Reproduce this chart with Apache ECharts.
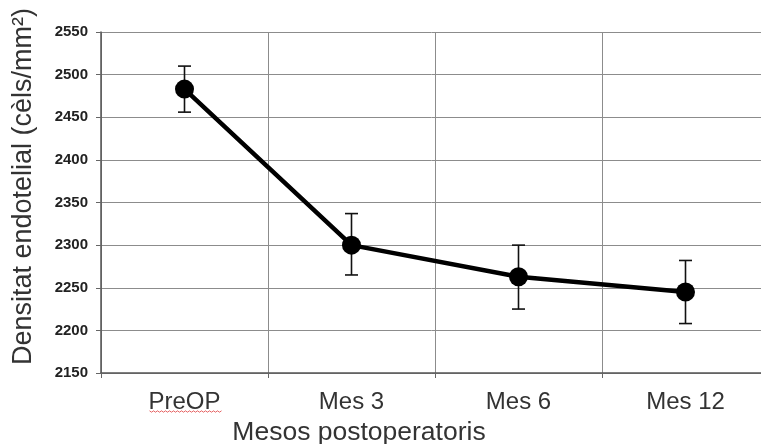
<!DOCTYPE html>
<html>
<head>
<meta charset="utf-8">
<script src="https://cdn.jsdelivr.net/npm/echarts@6/dist/echarts.min.js"></script>
<style>
html,body{margin:0;padding:0;background:#fff;}
#chart{width:761px;height:444px;}
</style>
</head>
<body>
<div id="chart"></div>
<script>
var categories = ['PreOP', 'Mes 3', 'Mes 6', 'Mes 12'];
var meanValues = [2483, 2300, 2263, 2245];
var upperValues = [2510, 2337, 2300, 2282];
var lowerValues = [2456, 2265, 2225, 2208];
var yTicks = {min: 2150, max: 2550, interval: 50};
var xTitle = 'Mesos postoperatoris';
var yTitle = 'Densitat endotelial (cèls/mm²)';

var errData = categories.map(function (c, i) { return [i, lowerValues[i], upperValues[i]]; });

var chart = echarts.init(document.getElementById('chart'));
var font = 'Liberation Sans, Arial, sans-serif';
chart.setOption({
  animation: false,
  backgroundColor: '#fff',
  grid: {left: 101, right: -8, top: 32, bottom: 71, containLabel: false, outerBoundsMode: 'none'},
  xAxis: {
    type: 'category',
    data: categories,
    boundaryGap: true,
    axisLine: {show: true, lineStyle: {color: '#555', width: 1.5}},
    axisTick: {show: true, length: 5, lineStyle: {color: '#666'}},
    splitLine: {show: true, lineStyle: {color: '#8c8c8c', width: 1}},
    axisLabel: {color: '#333', fontSize: 24, fontFamily: font, margin: 17},
    name: xTitle,
    nameLocation: 'middle',
    nameGap: 46,
    nameTextStyle: {color: '#333', fontSize: 26.5, fontFamily: font, padding: [0, 152, 0, 0]}
  },
  yAxis: {
    type: 'value',
    min: yTicks.min,
    max: yTicks.max,
    interval: yTicks.interval,
    axisLine: {show: true, lineStyle: {color: '#555', width: 1.5}},
    axisTick: {show: true, length: 5, lineStyle: {color: '#666'}},
    splitLine: {show: true, lineStyle: {color: '#8c8c8c', width: 1}},
    axisLabel: {color: '#222', fontSize: 15, fontWeight: 'bold', fontFamily: font, margin: 13,
      formatter: function (v) { return String(v); }},
    name: yTitle,
    nameLocation: 'middle',
    nameGap: 64,
    nameTextStyle: {color: '#333', fontSize: 27, fontFamily: font, padding: [0, 0, 0, 32]}
  },
  series: [
    {
      type: 'custom',
      data: errData,
      z: 3,
      renderItem: function (params, api) {
        var x = api.value(0);
        var lo = api.coord([x, api.value(1)]);
        var hi = api.coord([x, api.value(2)]);
        var w = 6.5;
        var st = {stroke: '#111', lineWidth: 1.6};
        return {
          type: 'group',
          children: [
            {type: 'line', shape: {x1: lo[0], y1: lo[1], x2: hi[0], y2: hi[1]}, style: st},
            {type: 'line', shape: {x1: hi[0] - w, y1: hi[1], x2: hi[0] + w, y2: hi[1]}, style: st},
            {type: 'line', shape: {x1: lo[0] - w, y1: lo[1], x2: lo[0] + w, y2: lo[1]}, style: st}
          ]
        };
      }
    },
    {
      type: 'line',
      data: meanValues,
      z: 4,
      symbol: 'circle',
      symbolSize: 19,
      lineStyle: {color: '#000', width: 4.5},
      itemStyle: {color: '#000'}
    }
  ]
});

// spell-check style wavy underline beneath the first category label
var c0 = chart.convertToPixel({xAxisIndex: 0}, categories[0]);
var base = chart.convertToPixel({yAxisIndex: 0}, yTicks.min);
var pts = [];
for (var k = 0; k <= 36; k++) {
  pts.push([c0 - 35 + k * 2, base + 38 + (k % 2 ? 1.2 : -0.2)]);
}
chart.setOption({
  graphic: [{type: 'polyline', shape: {points: pts}, style: {stroke: '#e04040', lineWidth: 0.8, fill: null}, silent: true}]
});
</script>
</body>
</html>
